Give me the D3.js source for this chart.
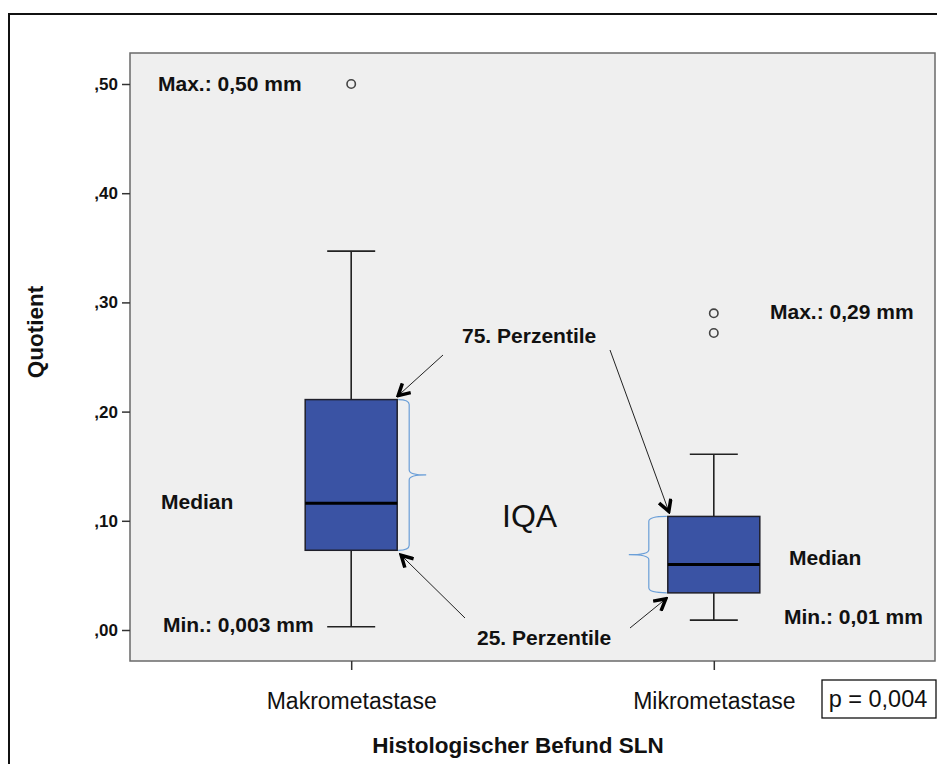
<!DOCTYPE html>
<html>
<head>
<meta charset="utf-8">
<script src="https://cdn.jsdelivr.net/npm/d3@7"></script>
<style>
  html, body { margin: 0; padding: 0; background: #fff; }
  svg { display: block; font-family: "Liberation Sans", Arial, sans-serif; }
</style>
</head>
<body>
<div id="chart"></div>
<script>
// Data
const categories = ["Makrometastase", "Mikrometastase"];
const whiskerLow = [0.003, 0.009];
const q1 = [0.073, 0.034];
const median = [0.116, 0.060];
const q3 = [0.211, 0.104];
const whiskerHigh = [0.347, 0.161];
const outliers = [[0.50], [0.290, 0.272]];
const yTicks = [0, 0.1, 0.2, 0.3, 0.4, 0.5];

const svgWidth = 937;
const svgHeight = 764;

// plot frame (grey panel)
const plot = { left: 130, top: 53, right: 935, bottom: 661 };

const svg = d3
  .select("#chart")
  .append("svg")
  .attr("width", svgWidth)
  .attr("height", svgHeight);

// outer black frame (only top and left are visible in the reference)
svg
  .append("path")
  .attr("d", `M9,${svgHeight} V14 H${svgWidth}`)
  .attr("fill", "none")
  .attr("stroke", "#111")
  .attr("stroke-width", 2);

// Scales
const xScale = d3
  .scalePoint()
  .domain(categories)
  .range([plot.left, plot.right])
  .padding(0.61);

const yScale = d3.scaleLinear().domain([0, 0.5]).range([630, 84]);

const boxW = 92;
const capW = 48;

// panel
svg
  .append("rect")
  .attr("x", plot.left)
  .attr("y", plot.top)
  .attr("width", plot.right - plot.left)
  .attr("height", plot.bottom - plot.top)
  .attr("fill", "#efefef")
  .attr("stroke", "#6a6a6a")
  .attr("stroke-width", 1.5);

// Axes
const fmt = (d) => "," + d3.format(".2f")(d).split(".")[1];

svg
  .append("g")
  .attr("transform", `translate(${plot.left},0)`)
  .call(d3.axisLeft(yScale).tickValues(yTicks).tickFormat(fmt).tickSize(8).tickPadding(4))
  .call((g) => g.select(".domain").remove())
  .call((g) => g.selectAll(".tick line").attr("stroke", "#333").attr("stroke-width", 1.5))
  .call((g) =>
    g
      .selectAll(".tick text")
      .attr("fill", "#111")
      .style("font-size", "17px")
      .style("font-weight", "bold")
      .style("font-family", "'Liberation Sans', Arial, sans-serif")
  );

svg
  .append("g")
  .attr("transform", `translate(0,${plot.bottom})`)
  .call(d3.axisBottom(xScale).tickSize(9).tickPadding(23))
  .call((g) => g.select(".domain").remove())
  .call((g) => g.selectAll(".tick line").attr("stroke", "#333").attr("stroke-width", 1.5))
  .call((g) =>
    g
      .selectAll(".tick text")
      .attr("fill", "#111")
      .style("font-size", "23px")
      .style("font-family", "'Liberation Sans', Arial, sans-serif")
  );

// axis titles
svg
  .append("text")
  .attr("transform", `translate(43,332) rotate(-90)`)
  .attr("text-anchor", "middle")
  .style("font-size", "22.5px")
  .style("font-weight", "bold")
  .attr("fill", "#111")
  .text("Quotient");

svg
  .append("text")
  .attr("x", 518)
  .attr("y", 753)
  .attr("text-anchor", "middle")
  .style("font-size", "22.5px")
  .style("font-weight", "bold")
  .attr("fill", "#111")
  .text("Histologischer Befund SLN");

// Boxes
const boxes = categories.map((c, i) => ({
  cat: c,
  lo: whiskerLow[i],
  q1: q1[i],
  med: median[i],
  q3: q3[i],
  hi: whiskerHigh[i],
  out: outliers[i],
}));

const chart = svg.append("g").attr("id", "viz");

const groups = chart
  .selectAll("g.box")
  .data(boxes)
  .join("g")
  .attr("class", "box")
  .attr("transform", (d) => `translate(${xScale(d.cat)},0)`);

// whisker stems
groups
  .append("line")
  .attr("x1", 0)
  .attr("x2", 0)
  .attr("y1", (d) => yScale(d.hi))
  .attr("y2", (d) => yScale(d.lo))
  .attr("stroke", "#222")
  .attr("stroke-width", 1.6);

// caps
groups
  .selectAll("line.cap")
  .data((d) => [d.lo, d.hi])
  .join("line")
  .attr("class", "cap")
  .attr("x1", -capW / 2)
  .attr("x2", capW / 2)
  .attr("y1", (v) => yScale(v))
  .attr("y2", (v) => yScale(v))
  .attr("stroke", "#222")
  .attr("stroke-width", 1.6);

groups
  .append("rect")
  .attr("x", -boxW / 2)
  .attr("width", boxW)
  .attr("y", (d) => yScale(d.q3))
  .attr("height", (d) => yScale(d.q1) - yScale(d.q3))
  .attr("fill", "#3a53a4")
  .attr("stroke", "#1f1f2a")
  .attr("stroke-width", 1.5);

groups
  .append("line")
  .attr("x1", -boxW / 2)
  .attr("x2", boxW / 2)
  .attr("y1", (d) => yScale(d.med))
  .attr("y2", (d) => yScale(d.med))
  .attr("stroke", "#000")
  .attr("stroke-width", 3);

groups
  .selectAll("circle.out")
  .data((d) => d.out)
  .join("circle")
  .attr("class", "out")
  .attr("cx", 0)
  .attr("cy", (v) => yScale(v))
  .attr("r", 4.2)
  .attr("fill", "none")
  .attr("stroke", "#444")
  .attr("stroke-width", 1.6);

// Annotations
const annoBold = (x, y, txt, anchor = "start") =>
  svg
    .append("text")
    .attr("x", x)
    .attr("y", y)
    .attr("text-anchor", anchor)
    .style("font-size", "21px")
    .style("font-weight", "bold")
    .attr("fill", "#111")
    .text(txt);

annoBold(158, yScale(0.5) + 7, "Max.: 0,50 mm");
annoBold(161, 509, "Median");
annoBold(163, yScale(0.003) + 5, "Min.: 0,003 mm");
annoBold(462, 343, "75. Perzentile");
annoBold(477, 645, "25. Perzentile");
annoBold(770, yScale(0.29) + 6, "Max.: 0,29 mm");
annoBold(789, 565, "Median");
annoBold(784, 624, "Min.: 0,01 mm");

svg
  .append("text")
  .attr("x", 502)
  .attr("y", 527)
  .style("font-size", "32px")
  .attr("fill", "#111")
  .text("IQA");

// p-value box
svg
  .append("rect")
  .attr("x", 822)
  .attr("y", 680)
  .attr("width", 114)
  .attr("height", 38)
  .attr("fill", "#fff")
  .attr("stroke", "#111")
  .attr("stroke-width", 1.3);

svg
  .append("text")
  .attr("x", 878)
  .attr("y", 707)
  .attr("text-anchor", "middle")
  .style("font-size", "23.5px")
  .attr("fill", "#111")
  .text("p = 0,004");

// arrows
const defs = svg.append("defs");
defs
  .append("marker")
  .attr("id", "head")
  .attr("viewBox", "0 0 12 12")
  .attr("refX", 10)
  .attr("refY", 6)
  .attr("markerWidth", 15)
  .attr("markerHeight", 15)
  .attr("markerUnits", "userSpaceOnUse")
  .attr("orient", "auto")
  .append("path")
  .attr("d", "M1,1 L10,6 L1,11")
  .attr("fill", "none")
  .attr("stroke", "#000")
  .attr("stroke-width", 2.8)
  .attr("stroke-linejoin", "miter");

const left = boxes[0];
const right = boxes[1];
const xL = xScale(left.cat);
const xR = xScale(right.cat);

const arrows = [
  { from: [443, 355], to: [xL + boxW / 2 + 1, yScale(left.q3) - 4] },
  { from: [610, 350], to: [xR - boxW / 2 + 1, yScale(right.q3) - 5] },
  { from: [465, 618], to: [xL + boxW / 2 + 4, yScale(left.q1) + 5] },
  { from: [630, 628], to: [xR - boxW / 2 - 2, yScale(right.q1) + 6] },
];

svg
  .selectAll("line.arrow")
  .data(arrows)
  .join("line")
  .attr("class", "arrow")
  .attr("x1", (d) => d.from[0])
  .attr("y1", (d) => d.from[1])
  .attr("x2", (d) => d.to[0])
  .attr("y2", (d) => d.to[1])
  .attr("stroke", "#222")
  .attr("stroke-width", 1)
  .attr("marker-end", "url(#head)");

// braces for the interquartile range
const brace = (x, yTop, yBot, dir, depth, tip) => {
  const ym = (yTop + yBot) / 2;
  const r = 5;
  const xm = x + dir * depth;
  return `M${x},${yTop} Q${xm},${yTop} ${xm},${yTop + r} L${xm},${ym - r} Q${xm},${ym} ${xm + dir * tip},${ym}` +
    ` Q${xm},${ym} ${xm},${ym + r} L${xm},${yBot - r} Q${xm},${yBot} ${x},${yBot}`;
};

svg
  .append("path")
  .attr("d", brace(xL + boxW / 2 + 1, yScale(left.q3), yScale(left.q1), 1, 11, 17))
  .attr("fill", "none")
  .attr("stroke", "#6b9fd8")
  .attr("stroke-width", 1.2);

svg
  .append("path")
  .attr("d", brace(xR - boxW / 2 - 1, yScale(right.q3), yScale(right.q1), -1, 18, 20))
  .attr("fill", "none")
  .attr("stroke", "#6b9fd8")
  .attr("stroke-width", 1.2);
</script>
</body>
</html>
